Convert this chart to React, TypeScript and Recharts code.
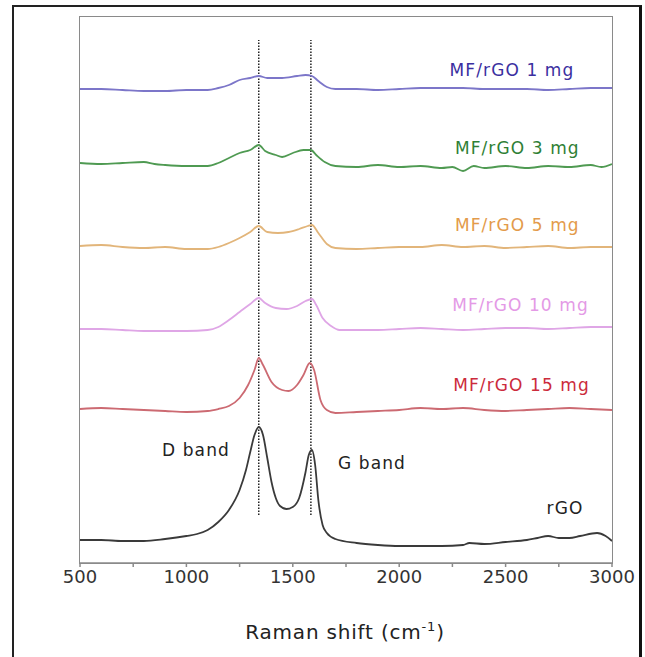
import {
  LineChart,
  Line,
  XAxis,
  YAxis,
  ReferenceLine,
  ReferenceDot,
} from "recharts"

// Raman spectra, stacked with offsets (a.u.)
const shifts1 = [500, 600, 700, 800, 900, 1000, 1100, 1150, 1200, 1250, 1300, 1340, 1380, 1450, 1520, 1560, 1590, 1620, 1660, 1700, 1800, 1900, 2000, 2100, 2200, 2300, 2400, 2500, 2600, 2700, 2800, 2900, 3000]
const mg1 = [474, 474, 473, 472, 472, 473, 473, 475, 478, 483, 485, 487, 485, 485, 487, 488, 487, 482, 476, 474, 474, 473, 474, 475, 475, 475, 474, 474, 474, 473, 474, 475, 475]

const shifts3 = [500, 600, 700, 800, 850, 900, 1000, 1100, 1150, 1200, 1250, 1300, 1340, 1370, 1420, 1450, 1500, 1550, 1585, 1610, 1650, 1700, 1800, 1900, 2000, 2100, 2200, 2250, 2300, 2350, 2400, 2500, 2600, 2700, 2800, 2900, 2950, 3000]
const mg3 = [400, 399, 400, 401, 399, 398, 397, 397, 400, 405, 410, 413, 418, 412, 408, 406, 410, 413, 413, 408, 401, 397, 396, 398, 396, 397, 395, 396, 392, 397, 395, 397, 395, 397, 396, 398, 396, 399]

const shifts5 = [500, 600, 700, 800, 900, 1000, 1100, 1150, 1200, 1250, 1300, 1340, 1380, 1430, 1480, 1530, 1570, 1590, 1620, 1660, 1700, 1800, 1900, 2000, 2100, 2200, 2300, 2400, 2500, 2600, 2700, 2800, 2900, 3000]
const mg5 = [317, 318, 316, 315, 316, 314, 314, 316, 320, 325, 331, 337, 331, 330, 331, 334, 337, 338, 330, 319, 315, 314, 315, 316, 316, 318, 316, 317, 315, 316, 317, 315, 316, 316]

const shifts10 = [500, 600, 700, 800, 900, 1000, 1100, 1150, 1200, 1250, 1300, 1340, 1370, 1420, 1470, 1520, 1560, 1590, 1610, 1640, 1680, 1720, 1800, 1900, 2000, 2100, 2200, 2300, 2400, 2500, 2600, 2700, 2800, 2900, 3000]
const mg10 = [234, 234, 233, 232, 232, 232, 233, 236, 243, 251, 259, 265, 260, 255, 254, 257, 262, 264, 258, 245, 237, 233, 233, 233, 234, 235, 234, 233, 234, 235, 235, 234, 235, 236, 236]

const shifts15 = [500, 600, 700, 800, 900, 1000, 1100, 1150, 1200, 1250, 1290, 1320, 1340, 1360, 1400, 1450, 1480, 1520, 1550, 1580, 1600, 1630, 1660, 1700, 1800, 1900, 2000, 2100, 2200, 2300, 2400, 2500, 2600, 2700, 2800, 2900, 3000]
const mg15 = [154, 155, 154, 153, 152, 151, 152, 154, 157, 165, 178, 193, 205, 198, 181, 173, 172, 178, 188, 200, 193, 163, 153, 150, 151, 152, 153, 155, 154, 155, 153, 152, 153, 154, 155, 154, 153]

const shiftsRgo = [500, 600, 700, 800, 900, 1000, 1050, 1100, 1150, 1200, 1250, 1280, 1300, 1320, 1340, 1360, 1380, 1400, 1420, 1440, 1470, 1500, 1530, 1560, 1575, 1590, 1605, 1620, 1640, 1660, 1700, 1800, 1900, 2000, 2100, 2200, 2300, 2330, 2400, 2500, 2600, 2650, 2700, 2750, 2800, 2850, 2930, 2970, 3000]
const rgo = [23, 23, 22, 22, 24, 27, 29, 33, 41, 53, 73, 93, 111, 128, 136, 128, 105, 81, 65, 57, 54, 56, 65, 91, 108, 113, 98, 63, 38, 30, 24, 20, 18, 17, 17, 17, 18, 20, 19, 21, 23, 25, 27, 25, 25, 27, 30, 27, 22]

const xTicks = [500, 750, 1000, 1250, 1500, 1750, 2000, 2250, 2500, 2750, 3000]
const bandPositions = [1340, 1585]

const toPoints = (xs: number[], ys: number[]) => xs.map((x, i) => ({ x, y: ys[i] }))

const series = [
  { name: "rGO", data: toPoints(shiftsRgo, rgo), color: "#3a3a3a" },
  { name: "MF/rGO 15 mg", data: toPoints(shifts15, mg15), color: "#cc6a72" },
  { name: "MF/rGO 10 mg", data: toPoints(shifts10, mg10), color: "#dfa6e6" },
  { name: "MF/rGO 5 mg", data: toPoints(shifts5, mg5), color: "#e2b57a" },
  { name: "MF/rGO 3 mg", data: toPoints(shifts3, mg3), color: "#4f9a52" },
  { name: "MF/rGO 1 mg", data: toPoints(shifts1, mg1), color: "#7c76c9" },
]

const annotations = [
  { text: "MF/rGO 1 mg", x: 2530, y: 493, color: "#3b2fa0" },
  { text: "MF/rGO 3 mg", x: 2555, y: 415, color: "#2f7f35" },
  { text: "MF/rGO 5 mg", x: 2555, y: 338, color: "#e39b4b" },
  { text: "MF/rGO 10 mg", x: 2570, y: 258, color: "#e49ae6" },
  { text: "MF/rGO 15 mg", x: 2575, y: 178, color: "#cc2b3c" },
  { text: "D band", x: 1045, y: 113, color: "#222" },
  { text: "G band", x: 1872, y: 100, color: "#222" },
  { text: "rGO", x: 2779, y: 55, color: "#222" },
]

const font = "'DejaVu Sans', sans-serif"
const frame = "#8a8a8a"

export default function App() {
  return (
    <div style={{ position: "absolute", left: 0, top: 0, width: 645, height: 657, overflow: "hidden", background: "#fff", fontFamily: font }}>
      <div
        style={{
          position: "absolute",
          left: 12,
          top: 5,
          width: 630,
          height: 700,
          boxSizing: "border-box",
          borderLeft: "2px solid #222",
          borderTop: "2px solid #222",
          borderRight: "3px solid #111",
        }}
      />
      {/* plot frame */}
      <div
        style={{
          position: "absolute",
          left: 79,
          top: 16,
          width: 534,
          height: 548,
          boxSizing: "border-box",
          border: `1.5px solid ${frame}`,
        }}
      />
      <div style={{ position: "absolute", left: 0, top: 0 }}>
        <LineChart width={645} height={657} margin={{ top: 17, right: 33, bottom: 64, left: 80 }}>
          <XAxis
            type="number"
            dataKey="x"
            domain={[500, 3000]}
            ticks={xTicks}
            tickFormatter={(v: number) => (v % 500 === 0 ? String(v) : "")}
            height={30}
            tickSize={4}
            tickMargin={3}
            stroke={frame}
            strokeWidth={1.5}
            tick={{ fill: "#333", fontSize: 18, fontFamily: font }}
            allowDataOverflow
            label={{
              content: () => (
                <text x={345} y={639} textAnchor="middle" fill="#222" fontSize={20} fontFamily={font} letterSpacing={0.8}>
                  Raman shift (cm
                  <tspan dy={-8} fontSize={13}>-1</tspan>
                  <tspan dy={8}>)</tspan>
                </text>
              ),
            }}
          />
          <YAxis
            type="number"
            dataKey="y"
            domain={[0, 546]}
            width={0}
            tick={false}
            tickLine={false}
            axisLine={false}
            allowDataOverflow
            label={{
              content: () => (
                <text x={0} y={0} transform="translate(36 285) rotate(-90)" textAnchor="middle" dominantBaseline="central" fill="#222" fontSize={20} fontFamily={font}>
                  Intensity (a.u.)
                </text>
              ),
            }}
          />
          {bandPositions.map((b) => (
            <ReferenceLine
              key={b}
              segment={[{ x: b, y: 48 }, { x: b, y: 523 }]}
              stroke="#222"
              strokeWidth={1.5}
              strokeDasharray="1.5 1.5"
            />
          ))}
          {series.map((s) => (
            <Line
              key={s.name}
              data={s.data}
              dataKey="y"
              type="monotone"
              stroke={s.color}
              strokeWidth={1.8}
              dot={false}
              isAnimationActive={false}
            />
          ))}
          {annotations.map((a) => (
            <ReferenceDot
              key={a.text}
              x={a.x}
              y={a.y}
              r={0}
              fill="none"
              stroke="none"
              label={{ value: a.text, position: "center", fill: a.color, fontSize: 17, fontFamily: font, letterSpacing: 1.1 }}
            />
          ))}
        </LineChart>
      </div>
    </div>
  )
}
